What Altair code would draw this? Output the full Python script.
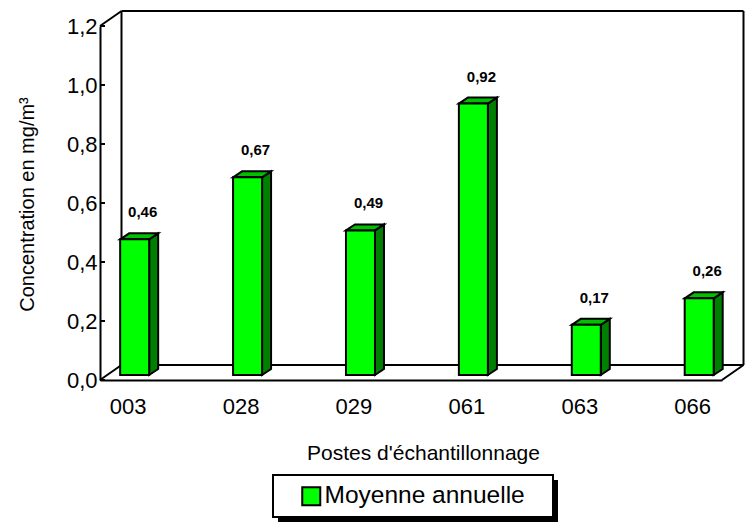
import json

import altair as alt
import pandas as pd

# ---- data -------------------------------------------------------------
postes = ["003", "028", "029", "061", "063", "066"]
moyennes = [0.46, 0.67, 0.49, 0.92, 0.17, 0.26]
graduations = [0.0, 0.2, 0.4, 0.6, 0.8, 1.0, 1.2]
serie = "Moyenne annuelle"

# ---- geometry of the 3-D box (front plane = plot area) ----------------
W, H = 622, 354
X_MIN, X_MAX = -0.245, 5.264
Y_MAX = 1.2
ux = (X_MAX - X_MIN) / W      # data units per pixel (x)
uy = Y_MAX / H                # data units per pixel (y)

BOX_DX, BOX_DY = 21.5 * ux, 15 * uy      # depth of the box
SHIFT_X, SHIFT_Y = 7 * ux, 5 * uy        # bars sit a third of the way back
BAR_DX, BAR_DY = 9 * ux, 6 * uy          # depth of each bar
HALF = 14.5 * ux                         # half width of a bar's front face
TICK = 5 * ux

FONT = "Liberation Sans"
VERT = "#00FF00"
VERT_FONCE = "#008000"
VERT_MOYEN = "#00C000"

# ---- frame of the box: back wall, floor, left wall --------------------
bx0, bx1 = X_MIN + BOX_DX, X_MAX + BOX_DX
cadre = pd.DataFrame(
    [
        (X_MIN, Y_MAX, bx0, Y_MAX + BOX_DY),
        (bx0, BOX_DY, bx0, Y_MAX + BOX_DY),
        (bx0, Y_MAX + BOX_DY, bx1, Y_MAX + BOX_DY),
        (bx1, Y_MAX + BOX_DY, bx1, BOX_DY),
        (bx0, BOX_DY, bx1, BOX_DY),
        (X_MIN, 0, bx0, BOX_DY),
        (X_MAX, 0, bx1, BOX_DY),
    ]
    + [(X_MIN, t, X_MIN + TICK, t) for t in graduations],
    columns=["x", "y", "x2", "y2"],
)

# ---- bars: front faces, side faces, top faces --------------------------
faces = []
cotes = []
dessus = []
etiquettes = []
for i, (p, v) in enumerate(zip(postes, moyennes)):
    left = i - HALF + SHIFT_X
    right = i + HALF + SHIFT_X
    top = v + SHIFT_Y
    faces.append({"x": left, "x2": right, "y": SHIFT_Y, "y2": top, "serie": serie})
    cotes += [
        {"face": p, "x": right, "y": top, "y2": SHIFT_Y},
        {"face": p, "x": right + BAR_DX, "y": top + BAR_DY, "y2": SHIFT_Y + BAR_DY},
    ]
    dessus += [
        {"face": p, "x": left, "y": top, "y2": top},
        {"face": p, "x": left + BAR_DX, "y": top + BAR_DY, "y2": top},
        {"face": p, "x": right, "y": top + BAR_DY, "y2": top},
        {"face": p, "x": right + BAR_DX, "y": top + BAR_DY, "y2": top + BAR_DY},
    ]
    etiquettes.append({"x": i, "y": top, "texte": f"{v:.2f}".replace(".", ",")})

faces = pd.DataFrame(faces)
cotes = pd.DataFrame(cotes)
dessus = pd.DataFrame(dessus)
etiquettes = pd.DataFrame(etiquettes)

x_scale = alt.Scale(domain=[X_MIN, X_MAX], nice=False, zero=False)
y_scale = alt.Scale(domain=[0, Y_MAX], nice=False)

noms = json.dumps(postes)
x_axis = alt.Axis(
    values=list(range(len(postes))),
    labelExpr=f"{noms}[datum.value]",
    ticks=False,
    grid=False,
    labelFlush=False,
    labelPadding=16,
    labelFontSize=22,
    domainColor="black",
    domainWidth=2,
    title="Postes d'échantillonnage",
    titleFontSize=21,
    titleFontWeight="normal",
    titleX=323,
    titleY=73,
    titleAlign="center",
    titleBaseline="middle",
)
y_axis = alt.Axis(
    values=graduations,
    labelExpr="replace(format(datum.value, '.1f'), '.', ',')",
    ticks=False,
    grid=False,
    labelFlush=False,
    labelPadding=3,
    labelFontSize=22,
    domainColor="black",
    domainWidth=2,
    title="Concentration en mg/m³",
    titleFontSize=20,
    titleFontWeight="normal",
    titleX=-73,
    titleY=178,
    titleAngle=270,
    titleAlign="center",
    titleBaseline="middle",
)

cadre_layer = alt.Chart(cadre).mark_rule(color="black", strokeWidth=2).encode(
    x=alt.X("x:Q", scale=x_scale, axis=x_axis),
    y=alt.Y("y:Q", scale=y_scale, axis=y_axis),
    x2="x2:Q",
    y2="y2:Q",
)

cote_layer = alt.Chart(cotes).mark_area(
    fill=VERT_FONCE, stroke="black", strokeWidth=2, strokeJoin="miter", opacity=1
).encode(
    x=alt.X("x:Q", scale=x_scale),
    y=alt.Y("y:Q", scale=y_scale),
    y2="y2:Q",
    detail="face:N",
)

dessus_layer = alt.Chart(dessus).mark_area(
    fill=VERT_MOYEN, stroke="black", strokeWidth=2, strokeJoin="miter", opacity=1
).encode(
    x=alt.X("x:Q", scale=x_scale),
    y=alt.Y("y:Q", scale=y_scale),
    y2="y2:Q",
    detail="face:N",
)

face_layer = alt.Chart(faces).mark_rect(
    stroke="black", strokeWidth=2, strokeJoin="miter", opacity=1
).encode(
    x=alt.X("x:Q", scale=x_scale),
    x2="x2:Q",
    y=alt.Y("y:Q", scale=y_scale),
    y2="y2:Q",
    color=alt.Color(
        "serie:N",
        scale=alt.Scale(domain=[serie], range=[VERT]),
        legend=alt.Legend(
            title=None,
            orient="none",
            legendX=199,
            legendY=458,
            padding=0,
            symbolType="square",
            symbolSize=324,
            symbolStrokeColor="black",
            symbolStrokeWidth=2,
            symbolOpacity=1,
            labelFont=FONT,
            labelFontSize=24.5,
            labelColor="black",
            labelOffset=1,
            labelLimit=400,
        ),
    ),
)

texte_layer = alt.Chart(etiquettes).mark_text(
    font=FONT, fontSize=15, fontWeight="bold", color="black",
    dx=15, dy=-27, baseline="middle", align="center",
).encode(
    x=alt.X("x:Q", scale=x_scale),
    y=alt.Y("y:Q", scale=y_scale),
    text="texte:N",
)

# legend frame with its drop shadow, in view pixels
cadre_legende = pd.DataFrame({"k": [0]})
ombre = alt.Chart(cadre_legende).mark_rect(color="black").encode(
    x=alt.value(178), x2=alt.value(458), y=alt.value(454), y2=alt.value(496)
)
boite = alt.Chart(cadre_legende).mark_rect(
    fill="white", stroke="black", strokeWidth=2
).encode(
    x=alt.value(173), x2=alt.value(453), y=alt.value(449), y2=alt.value(491)
)

chart = (
    alt.layer(cadre_layer, cote_layer, dessus_layer, face_layer, texte_layer, ombre, boite)
    .properties(
        width=W,
        height=H,
        padding={"left": 100, "top": 26, "right": 23, "bottom": 147},
        autosize=alt.AutoSizeParams(type="none"),
        background="white",
    )
    .configure_view(stroke=None)
    .configure_axis(labelFont=FONT, titleFont=FONT, labelColor="black", titleColor="black")
)

chart.save("out.html", embed_options={"renderer": "svg", "actions": False})
